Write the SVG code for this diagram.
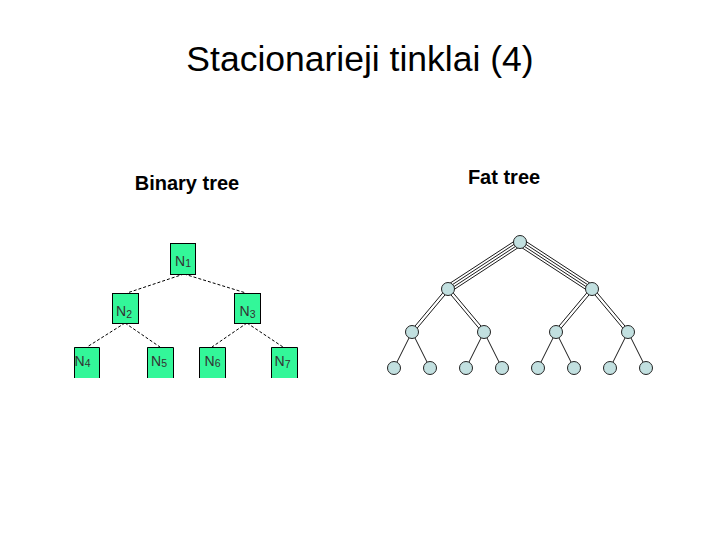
<svg xmlns="http://www.w3.org/2000/svg" width="720" height="540" viewBox="0 0 720 540">
<style>
.title{font-family:"Liberation Sans",Arial,sans-serif;font-size:35.5px;fill:#000}
.head{font-family:"Liberation Sans",Arial,sans-serif;font-size:20px;font-weight:bold;fill:#000}
.box{fill:#33f799;stroke:none}
.border{fill:none;stroke:#000;stroke-width:1}
.lbl{font-family:"Liberation Sans",Arial,sans-serif;font-size:14px;fill:#333}
.sub{font-size:10.5px}
.dash{stroke:#000;stroke-width:1;stroke-dasharray:3,2;fill:none}
.fl{stroke:#000;stroke-width:0.9;fill:none}
.fn{fill:#c2e0e0;stroke:#222;stroke-width:1}
</style>
<rect width="720" height="540" fill="#fff"/>
<text class="title" x="360" y="71" text-anchor="middle">Stacionarieji tinklai (4)</text>
<text class="head" x="187" y="190" text-anchor="middle">Binary tree</text>
<text class="head" x="504" y="184" text-anchor="middle">Fat tree</text>

<g id="binary-connectors">
<line class="dash" x1="184" y1="274" x2="127" y2="293"/>
<line class="dash" x1="184" y1="274" x2="246" y2="293"/>
<line class="dash" x1="125" y1="323" x2="87" y2="347"/>
<line class="dash" x1="125" y1="323" x2="160" y2="347"/>
<line class="dash" x1="247" y1="323" x2="212" y2="347"/>
<line class="dash" x1="247" y1="323" x2="283" y2="347"/>
</g>

<g id="N1"><rect class="box" x="170" y="243" width="25" height="31"/><rect class="border" x="170.5" y="243.5" width="25" height="31"/><text class="lbl" x="175" y="265.5">N<tspan class="sub" dy="1.5">1</tspan></text></g>
<g id="N2"><rect class="box" x="112" y="293" width="26" height="30"/><rect class="border" x="112.5" y="293.5" width="26" height="30"/><text class="lbl" x="116" y="315.5">N<tspan class="sub" dy="2">2</tspan></text></g>
<g id="N3"><rect class="box" x="234" y="293" width="26" height="30"/><rect class="border" x="234.5" y="293.5" width="26" height="30"/><text class="lbl" x="239.5" y="315.5">N<tspan class="sub" dy="2">3</tspan></text></g>
<g id="N4"><rect class="box" x="74" y="347" width="25" height="31"/><path class="border" d="M74.5,378V347.5H99.5V378"/><text class="lbl" x="74.5" y="365.5">N<tspan class="sub" dy="1">4</tspan></text></g>
<g id="N5"><rect class="box" x="147" y="347" width="26" height="31"/><path class="border" d="M147.5,378V347.5H173.5V378"/><text class="lbl" x="151" y="365.5">N<tspan class="sub" dy="1">5</tspan></text></g>
<g id="N6"><rect class="box" x="199" y="347" width="26" height="31"/><path class="border" d="M199.5,378V347.5H225.5V378"/><text class="lbl" x="204.5" y="365.5">N<tspan class="sub" dy="1">6</tspan></text></g>
<g id="N7"><rect class="box" x="271" y="347" width="26" height="31"/><path class="border" d="M271.5,378V347.5H297.5V378"/><text class="lbl" x="274.5" y="365.5">N<tspan class="sub" dy="2">7</tspan></text></g>

<g id="fat-connectors">
<line class="fl" x1="517.95" y1="238.86" x2="445.95" y2="285.86"/>
<line class="fl" x1="519.32" y1="240.95" x2="447.32" y2="287.95"/>
<line class="fl" x1="520.68" y1="243.05" x2="448.68" y2="290.05"/>
<line class="fl" x1="522.05" y1="245.14" x2="450.05" y2="292.14"/>
<line class="fl" x1="522.05" y1="238.86" x2="594.05" y2="285.86"/>
<line class="fl" x1="520.68" y1="240.95" x2="592.68" y2="287.95"/>
<line class="fl" x1="519.32" y1="243.05" x2="591.32" y2="290.05"/>
<line class="fl" x1="517.95" y1="245.14" x2="589.95" y2="292.14"/>
<line class="fl" x1="446.85" y1="288.04" x2="410.85" y2="331.04"/>
<line class="fl" x1="449.15" y1="289.96" x2="413.15" y2="332.96"/>
<line class="fl" x1="449.15" y1="288.04" x2="485.15" y2="331.04"/>
<line class="fl" x1="446.85" y1="289.96" x2="482.85" y2="332.96"/>
<line class="fl" x1="590.85" y1="288.04" x2="554.85" y2="331.04"/>
<line class="fl" x1="593.15" y1="289.96" x2="557.15" y2="332.96"/>
<line class="fl" x1="593.15" y1="288.04" x2="629.15" y2="331.04"/>
<line class="fl" x1="590.85" y1="289.96" x2="626.85" y2="332.96"/>
<line class="fl" x1="412" y1="332" x2="394" y2="368"/>
<line class="fl" x1="412" y1="332" x2="430" y2="368"/>
<line class="fl" x1="484" y1="332" x2="466" y2="368"/>
<line class="fl" x1="484" y1="332" x2="502" y2="368"/>
<line class="fl" x1="556" y1="332" x2="538" y2="368"/>
<line class="fl" x1="556" y1="332" x2="574" y2="368"/>
<line class="fl" x1="628" y1="332" x2="610" y2="368"/>
<line class="fl" x1="628" y1="332" x2="646" y2="368"/>
</g>

<g id="F-root"><circle class="fn" cx="520" cy="242" r="6.5"/></g>
<g id="F-L2a"><circle class="fn" cx="448" cy="289" r="6.5"/></g>
<g id="F-L2b"><circle class="fn" cx="592" cy="289" r="6.5"/></g>
<g id="F-L3a"><circle class="fn" cx="412" cy="332" r="6.5"/></g>
<g id="F-L3b"><circle class="fn" cx="484" cy="332" r="6.5"/></g>
<g id="F-L3c"><circle class="fn" cx="556" cy="332" r="6.5"/></g>
<g id="F-L3d"><circle class="fn" cx="628" cy="332" r="6.5"/></g>
<g id="F-L4a"><circle class="fn" cx="394" cy="368" r="6.5"/></g>
<g id="F-L4b"><circle class="fn" cx="430" cy="368" r="6.5"/></g>
<g id="F-L4c"><circle class="fn" cx="466" cy="368" r="6.5"/></g>
<g id="F-L4d"><circle class="fn" cx="502" cy="368" r="6.5"/></g>
<g id="F-L4e"><circle class="fn" cx="538" cy="368" r="6.5"/></g>
<g id="F-L4f"><circle class="fn" cx="574" cy="368" r="6.5"/></g>
<g id="F-L4g"><circle class="fn" cx="610" cy="368" r="6.5"/></g>
<g id="F-L4h"><circle class="fn" cx="646" cy="368" r="6.5"/></g>
</svg>
